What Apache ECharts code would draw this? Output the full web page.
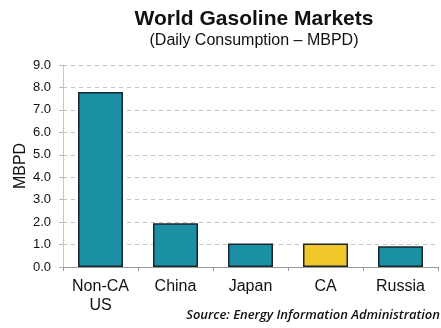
<!DOCTYPE html>
<html>
<head>
<meta charset="utf-8">
<script src="https://cdn.jsdelivr.net/npm/echarts@6/dist/echarts.min.js"></script>
<style>
  html, body { margin: 0; padding: 0; background: #fff; }
  #chart { width: 441px; height: 328px; }
</style>
</head>
<body>
<div id="chart"></div>
<script>
  var categories = ['Non-CA\nUS', 'China', 'Japan', 'CA', 'Russia'];
  var consumption = [7.8, 1.95, 1.05, 1.05, 0.93];
  var barColors = ['#1b8fa3', '#1b8fa3', '#1b8fa3', '#f2c72a', '#1b8fa3'];
  var yTicks = { min: 0, max: 9, interval: 1 };

  var myChart = echarts.init(document.getElementById('chart'));

  var option = {
    textStyle: { fontFamily: 'Liberation Sans, Arial, sans-serif' },
    animation: false,
    title: [{
      text: 'World Gasoline Markets',
      subtext: '(Daily Consumption \u2013 MBPD)',
      left: 249,
      textAlign: 'center',
      top: 4,
      itemGap: 3,
      textStyle: { fontSize: 21, fontWeight: 'bold', color: '#111' },
      subtextStyle: { fontSize: 16, color: '#111' }
    }, {
      text: 'Source: Energy Information Administration',
      right: 1,
      bottom: 6,
      padding: 0,
      textStyle: { fontSize: 13, fontStyle: 'italic', fontWeight: 600, color: '#111', fontFamily: 'Open Sans' }
    }],
    grid: { left: 63, right: 3, top: 65, bottom: 61, outerBoundsMode: 'none' },
    xAxis: {
      type: 'category',
      data: categories,
      axisLine: { lineStyle: { color: '#999' } },
      axisTick: { show: true, length: 4, lineStyle: { color: '#999' } },
      axisLabel: { color: '#111', fontSize: 16, lineHeight: 19, margin: 10 }
    },
    yAxis: {
      type: 'value',
      min: yTicks.min,
      max: yTicks.max,
      interval: yTicks.interval,
      name: 'MBPD',
      nameLocation: 'middle',
      nameGap: 34,
      nameMoveOverlap: false,
      nameTextStyle: { fontSize: 16, color: '#111' },
      axisLine: { show: true, lineStyle: { color: '#bbb', type: 'dotted' } },
      axisTick: { show: true, length: 4, lineStyle: { color: '#bbb' } },
      axisLabel: {
        color: '#111', fontSize: 13, margin: 12,
        formatter: function (v) { return v.toFixed(1); }
      },
      splitLine: { lineStyle: { color: '#c4c4c4', type: [4, 4] } }
    },
    series: [{
      type: 'bar',
      barWidth: '60%',
      data: consumption.map(function (v, i) {
        return { value: v, itemStyle: { color: barColors[i] } };
      }),
      itemStyle: { borderColor: '#1a2530', borderWidth: 1.5 }
    }]
  };

  myChart.setOption(option);
</script>
</body>
</html>
